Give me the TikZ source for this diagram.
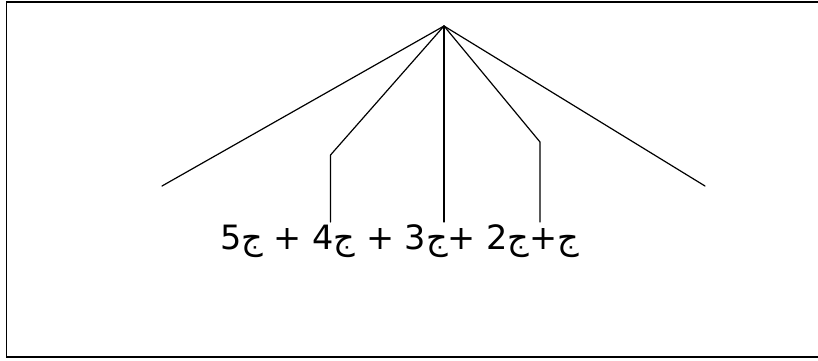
\documentclass[tikz,border=0pt]{standalone}
\usepackage{fontspec}
\setmainfont{DejaVu Sans}
\newfontfamily\arabicfont[Script=Arabic]{DejaVu Sans}
\TeXXeTstate=1
\newcommand{\jm}{\hbox{\arabicfont\beginR ج\endR}}
\begin{document}
\begin{tikzpicture}[x=1pt,y=-1pt,
  edge/.style={line width=1.2pt, line cap=round, line join=round},
  lbl/.style={inner sep=0pt, anchor=base west, font=\fontsize{33.5}{40}\selectfont}]
\useasboundingbox (0,0) rectangle (818,360);
\draw[line width=1.8pt] (6.5,2) rectangle (840,357);
\coordinate (apex) at (444,26);
\coordinate (lend) at (162,186);
\coordinate (rend) at (705,186);
\coordinate (lbend) at (330.5,155);
\coordinate (lfoot) at (330.5,222);
\coordinate (mfoot) at (444,222);
\coordinate (rbend) at (540,142);
\coordinate (rfoot) at (540,222);
\draw[edge] (apex) -- (lend);
\draw[edge] (apex) -- (rend);
\draw[edge] (apex) -- (lbend) -- (lfoot);
\draw[edge] (apex) -- (mfoot);
\draw[edge] (apex) -- (rbend) -- (rfoot);
\node[lbl] (expr) at (220,249) {5\jm{} + 4\jm{} + 3\jm+ 2\jm+\jm};
\end{tikzpicture}
\end{document}
